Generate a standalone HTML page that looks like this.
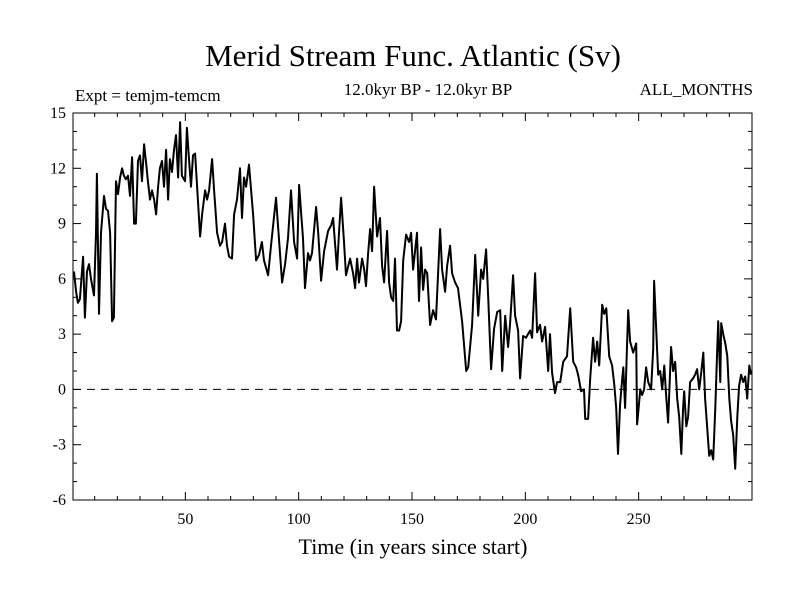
<!DOCTYPE html>
<html><head><meta charset="utf-8"><style>
html,body{margin:0;padding:0;background:#fff;}
svg text{font-family:"Liberation Serif",serif;fill:#000;}
</style></head><body>
<svg id="chart" width="800" height="600" viewBox="0 0 800 600" xmlns="http://www.w3.org/2000/svg">
<text x="413" y="66" font-size="31" text-anchor="middle">Merid Stream Func. Atlantic (Sv)</text>
<text x="75" y="101" font-size="17">Expt = temjm-temcm</text>
<text x="428" y="95" font-size="17" text-anchor="middle">12.0kyr BP - 12.0kyr BP</text>
<text x="753" y="95" font-size="17" text-anchor="end">ALL_MONTHS</text>
<text x="413" y="554" font-size="22" text-anchor="middle">Time (in years since start)</text>
<g id="axes"></g>
<g id="series"></g>
<rect x="73" y="113" width="679" height="387" fill="none" stroke="#000" stroke-width="1"/>
</svg>
<script>
const years = [0.9,1.8,2.6,3.5,4.9,5.7,6.6,7.5,8.4,9.7,10.6,11.0,11.9,12.8,14.1,15.0,15.9,16.8,17.7,18.5,19.4,20.3,21.2,22.1,22.9,23.8,24.7,25.6,26.5,27.4,28.2,29.1,30.0,30.9,31.8,32.7,33.5,34.4,35.3,36.2,37.1,38.0,38.8,39.7,40.6,41.5,42.4,43.2,44.1,45.0,45.9,46.8,47.7,48.5,
49.9,50.7,51.6,52.5,53.4,54.3,55.2,56.5,57.4,58.7,59.6,60.5,61.8,62.7,64.0,65.3,66.2,67.5,68.4,69.3,70.6,71.5,72.8,74.1,75.0,75.9,76.8,78.1,79.9,81.2,82.5,83.8,84.7,86.5,87.8,90.0,91.4,92.7,94.0,95.3,96.6,98.0,99.3,100.2,
101.9,102.8,104.1,105.0,105.9,107.7,108.6,109.9,111.2,113.0,114.3,115.2,116.1,116.9,117.8,118.7,120.0,120.9,122.7,124.0,124.9,125.8,126.6,128.0,128.9,129.7,130.6,131.5,132.4,133.3,134.6,135.9,136.8,137.7,139.0,139.9,140.8,141.7,142.5,143.4,144.3,145.2,146.1,147.4,148.7,149.6,150.5,
152.2,153.1,154.0,154.9,155.8,156.7,158.0,159.3,160.6,162.4,163.3,164.6,165.5,166.8,167.7,169.0,170.3,172.1,173.9,174.8,176.5,177.9,179.2,180.5,181.4,182.7,183.6,184.9,186.2,187.6,188.9,189.8,191.1,192.4,193.3,194.6,195.5,196.8,197.7,199.0,200.3,
202.1,203.0,204.3,205.2,206.5,207.4,208.7,210.1,210.9,211.8,213.1,214.0,215.4,216.7,218.4,219.8,221.1,222.4,223.3,224.6,225.9,226.4,227.7,228.6,229.9,230.8,231.7,232.6,233.9,234.8,235.7,237.0,238.3,239.2,240.1,240.9,241.8,242.7,243.2,244.0,244.9,245.4,246.2,247.6,248.9,249.3,
250.7,251.5,252.4,253.3,254.2,255.5,256.4,256.8,257.7,258.6,259.5,260.4,261.3,262.1,263.0,263.9,264.3,265.2,266.1,267.0,267.9,268.8,269.6,270.1,271.0,271.8,272.7,274.0,274.9,275.8,276.7,277.6,278.5,279.3,280.2,281.1,282.0,282.9,283.8,284.6,285.1,286.0,286.4,287.3,288.2,289.1,290.0,290.8,291.7,292.6,293.5,294.3,295.2,296.1,297.0,297.9,298.8,299.6];
const values = [6.4,5.3,4.7,4.9,7.2,3.9,6.4,6.8,6.0,5.1,8.5,11.7,4.1,8.5,10.5,9.8,9.7,8.5,3.7,3.9,11.3,10.6,11.5,12.0,11.6,11.4,11.6,10.5,12.6,9.0,9.0,12.4,12.7,11.3,13.3,12.3,11.3,10.3,10.8,10.3,9.5,11.0,12.0,12.4,11.0,13.0,10.3,12.5,11.8,13.0,13.8,11.5,14.5,11.6,
11.3,14.2,12.5,11.0,12.7,12.8,11.0,8.3,9.5,10.8,10.3,10.8,12.5,10.8,8.5,7.8,8.0,9.0,7.8,7.2,7.1,9.5,10.3,12.0,9.3,11.5,11.0,12.2,9.5,7.0,7.3,8.0,7.0,6.2,7.8,10.4,8.0,5.8,6.8,8.2,10.8,8.0,7.1,11.1,
8.2,5.5,7.4,7.0,7.4,9.9,8.5,5.9,7.5,8.6,8.9,9.3,7.8,6.5,8.5,10.4,8.0,6.2,7.1,6.3,5.5,7.1,5.8,7.1,6.5,5.6,7.3,8.7,7.5,11.0,8.3,9.3,6.7,5.8,8.6,5.8,5.0,4.8,7.1,3.2,3.2,3.7,7.0,8.4,8.0,8.5,6.5,
8.5,4.8,7.7,5.4,6.5,6.3,3.5,4.3,3.8,8.7,6.5,5.3,6.7,7.8,6.3,5.8,5.5,3.7,1.0,1.2,3.5,7.3,4.0,6.5,6.0,7.6,5.0,1.1,3.3,4.2,4.3,1.0,4.0,2.3,3.6,6.2,4.0,3.2,0.6,2.9,2.8,
3.2,2.8,6.3,3.1,3.5,2.6,3.4,1.0,3.0,0.9,-0.2,0.4,0.4,1.5,1.8,4.4,1.5,1.2,0.8,-0.1,0,-1.6,-1.6,0.6,2.8,1.5,2.6,1.3,4.6,4.1,4.4,1.8,1.3,0.3,-1.0,-3.5,-0.8,0.5,1.2,-1.0,2.5,4.3,2.6,2.0,2.5,-1.9,
0,-0.3,0.0,1.2,0.4,0.0,2.2,5.9,3.4,0.8,1.0,0.0,1.3,-0.3,-1.8,1.1,2.3,1.0,1.5,-0.5,-1.5,-3.5,-1.0,-0.1,-2.0,-1.5,0.4,0.6,0.8,1.1,0.0,0.9,2.0,-0.5,-2.0,-3.6,-3.3,-3.8,-1.0,2.0,3.7,0.4,3.6,3.0,2.5,1.8,-0.5,-1.7,-2.5,-4.3,-1.5,0.2,0.8,0.4,0.7,-0.5,1.3,0.8];
const xTickLabels = [50,100,150,200,250];
const yTickLabels = [15,12,9,6,3,0,-3,-6];

const NS = "http://www.w3.org/2000/svg";
const L = 73, R = 752, T = 113, B = 500;
const X0 = 0, X1 = 300, Y0 = -6, Y1 = 15;
function xs(v){ return 72 + (v - X0) * (R - 72) / (X1 - X0); }
function ys(v){ return B - (v - Y0) * (B - T) / (Y1 - Y0); }
function mk(tag, attrs, parent){ const e = document.createElementNS(NS, tag); for (const k in attrs) e.setAttribute(k, attrs[k]); parent.appendChild(e); return e; }

const axes = document.getElementById('axes');
for (let v = Y0; v <= Y1; v += 1) {
  const major = (v % 3 === 0);
  const len = major ? 8 : 4;
  const y = ys(v);
  const t1 = mk('line', {x1: L, x2: L + len, y1: y, y2: y, stroke: '#000', 'stroke-width': 1}, axes);
  
  
  const t2 = mk('line', {x1: R, x2: R - len, y1: y, y2: y, stroke: '#000', 'stroke-width': 1}, axes);
  
  
}
yTickLabels.forEach(v => {
  const t = mk('text', {x: 66, y: ys(v) + 5, 'font-size': 16, 'text-anchor': 'end'}, axes);
  t.textContent = v;
  
  
});
for (let v = 10; v < X1; v += 10) {
  const major = (v % 50 === 0);
  const len = major ? 8 : 4;
  const x = xs(v);
  const t1 = mk('line', {x1: x, x2: x, y1: B, y2: B - len, stroke: '#000', 'stroke-width': 1}, axes);
  
  
  const t2 = mk('line', {x1: x, x2: x, y1: T, y2: T + len, stroke: '#000', 'stroke-width': 1}, axes);
  
  
}
xTickLabels.forEach(v => {
  const t = mk('text', {x: xs(v), y: 524, 'font-size': 16, 'text-anchor': 'middle'}, axes);
  t.textContent = v;
  
  
});
const z = mk('line', {x1: L, x2: R, y1: ys(0), y2: ys(0), stroke: '#000', 'stroke-width': 1, 'stroke-dasharray': '8,6'}, axes);



const series = document.getElementById('series');
let d = '';
years.forEach((yr, i) => { d += (i ? 'L' : 'M') + xs(yr).toFixed(1) + ',' + ys(values[i]).toFixed(1); });
const p = mk('path', {d: d, fill: 'none', stroke: '#000', 'stroke-width': 2, 'stroke-linejoin': 'round'}, series);


</script>
</body></html>
